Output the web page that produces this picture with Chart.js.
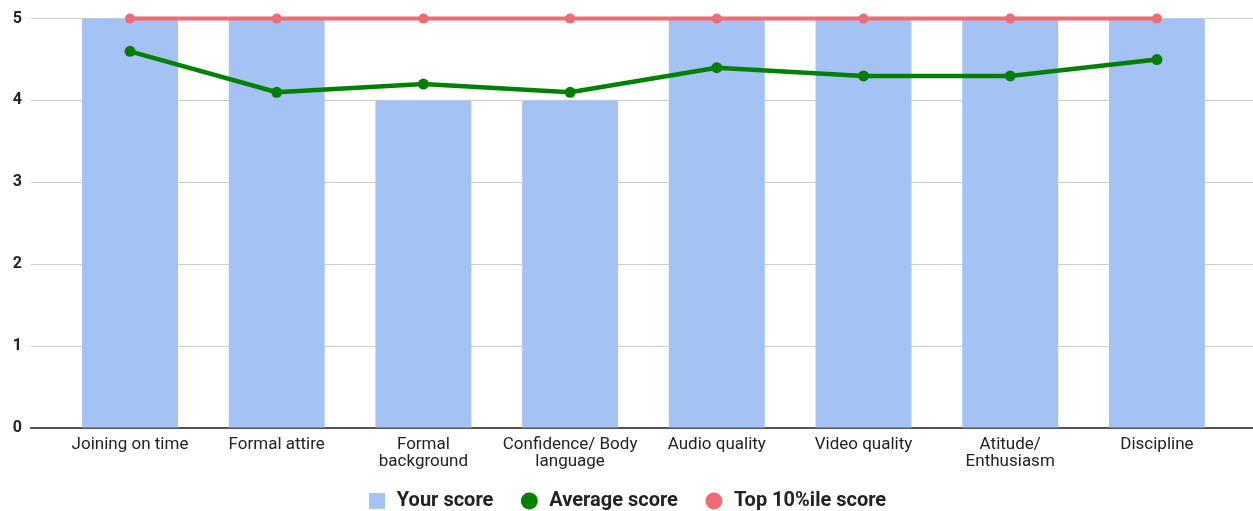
<!DOCTYPE html>
<html>
<head>
<meta charset="utf-8">
<script src="https://cdn.jsdelivr.net/npm/chart.js@4/dist/chart.umd.min.js"></script>
<style>
    html, body { margin: 0; padding: 0; background: #fff; }
    #wrap { width: 1253px; height: 511px; }
</style>
</head>
<body>
<div id="wrap"><canvas id="scoreChart"></canvas></div>
<script>
// chart data
const categories = [
    'Joining on time',
    'Formal attire',
    ['Formal', 'background'],
    ['Confidence/ Body', 'language'],
    'Audio quality',
    'Video quality',
    ['Atitude/', 'Enthusiasm'],
    'Discipline'
];
const yourScore = [5, 5, 4, 4, 5, 5, 5, 5];
const averageScore = [4.6, 4.1, 4.2, 4.1, 4.4, 4.3, 4.3, 4.5];
const topScore = [5, 5, 5, 5, 5, 5, 5, 5];
const yTicks = [0, 1, 2, 3, 4, 5];

const BAR_COLOR = '#a4c2f4';

function toPoints(values) {
    return values.map((v, i) => ({ x: i, y: v }));
}

// square legend marker for the bars
function squareMarker(size, color) {
    const c = document.createElement('canvas');
    c.width = size;
    c.height = size;
    const g = c.getContext('2d');
    g.fillStyle = color;
    g.fillRect(0, 0, size, size);
    return c;
}

// x labels run a little past the axis box, so don't clip them
const unclipLabels = {
    id: 'unclipLabels',
    afterLayout: chart => { chart.scales.x.bottom = chart.height; }
};

Chart.defaults.font.family = 'Roboto, "Noto Sans", sans-serif';
Chart.defaults.color = '#222';

document.addEventListener('DOMContentLoaded', function () {
    const ctx = document.getElementById('scoreChart').getContext('2d');
    new Chart(ctx, {
        type: 'bar',
        data: {
            datasets: [
                {
                    type: 'line',
                    label: 'Top 10%ile score',
                    data: toPoints(topScore),
                    borderColor: '#f06b74',
                    backgroundColor: '#f06b74',
                    borderWidth: 4,
                    pointRadius: 5,
                    pointBorderWidth: 0,
                    clip: false,
                    order: 1
                },
                {
                    type: 'line',
                    label: 'Average score',
                    data: toPoints(averageScore),
                    borderColor: '#008000',
                    backgroundColor: '#008000',
                    borderWidth: 4.5,
                    pointRadius: 5.5,
                    pointBorderWidth: 0,
                    clip: false,
                    order: 2
                },
                {
                    label: 'Your score',
                    data: toPoints(yourScore),
                    backgroundColor: BAR_COLOR,
                    borderWidth: 0,
                    borderRadius: 2,
                    borderSkipped: 'bottom',
                    barPercentage: 0.654,
                    categoryPercentage: 1,
                    pointStyle: squareMarker(16, BAR_COLOR),
                    order: 3
                }
            ]
        },
        plugins: [unclipLabels],
        options: {
            responsive: true,
            maintainAspectRatio: false,
            animation: false,
            layout: { autoPadding: false, padding: { top: 18, right: 0, left: 0, bottom: -10 } },
            scales: {
                x: {
                    type: 'linear',
                    offset: false,
                    min: -0.675,
                    max: 7.655,
                    afterBuildTicks: scale => {
                        scale.ticks = categories.map((c, i) => ({ value: i }));
                    },
                    afterFit: scale => {
                        scale.height = 37;
                        scale.paddingLeft = 0;
                        scale.paddingRight = 0;
                    },
                    grid: { display: false, drawTicks: false },
                    border: { display: true, color: '#555', width: 2 },
                    ticks: {
                        autoSkip: false,
                        maxRotation: 0,
                        padding: 8,
                        color: '#222',
                        font: { size: 17, lineHeight: 1.02 },
                        callback: value => categories[value]
                    }
                },
                y: {
                    min: 0,
                    max: 5,
                    afterBuildTicks: scale => {
                        scale.ticks = yTicks.map(v => ({ value: v }));
                    },
                    afterFit: scale => { scale.width = 31; },
                    grid: {
                        color: c => c.tick.value === 0 ? '#555' : '#ccc',
                        drawTicks: false
                    },
                    border: { display: false },
                    ticks: {
                        padding: 9,
                        color: '#222',
                        font: { size: 16, weight: 'bold' }
                    }
                }
            },
            plugins: {
                legend: {
                    position: 'bottom',
                    reverse: true,
                    labels: {
                        usePointStyle: true,
                        boxHeight: 12,
                        padding: 26,
                        color: '#222',
                        font: { size: 20, weight: 'bold' },
                        generateLabels: chart => {
                            const items = Chart.defaults.plugins.legend.labels.generateLabels(chart);
                            items.forEach(item => { item.lineWidth = 0; });
                            return items;
                        }
                    }
                },
                tooltip: { enabled: false }
            }
        }
    });
});
</script>
</body>
</html>
